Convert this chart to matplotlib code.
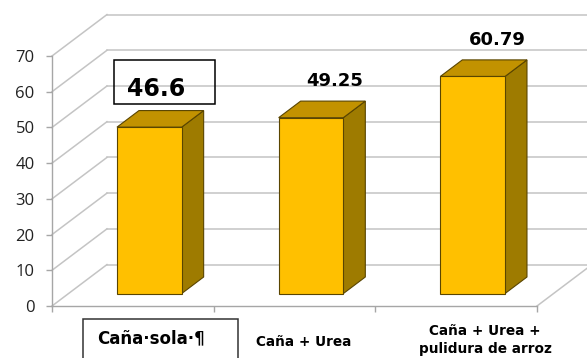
import matplotlib
matplotlib.use("Agg")
import matplotlib.pyplot as plt
from matplotlib.patches import Polygon, Rectangle
from matplotlib.transforms import ScaledTranslation

# Data
categories = ["Caña·sola·¶", "Caña + Urea", "Caña + Urea +\npulidura de arroz"]
values = [46.6, 49.25, 60.79]
value_labels = ["46.6", "49.25", "60.79"]
y_ticks = [0, 10, 20, 30, 40, 50, 60, 70]

# Pseudo-3D geometry (data units): depth shift of the back wall
DX, DY = 0.34, 11.6
BAR_W = 0.40
Z0, Z1 = 0.30, 0.70

FRONT = "#FFC000"
TOP = "#C29200"
SIDE = "#9E7B00"
EDGE = "#5A4500"
GRID = "#C4C4C4"
AXIS = "#A6A6A6"


def proj(x, v, z):
    return (x + z * DX, v + z * DY)


fig = plt.figure(figsize=(5.87, 3.58), dpi=100)
fig.patch.set_facecolor("white")
ax = fig.add_axes([52 / 587, 52 / 358, 485 / 587, 250 / 358])
ax.set_xlim(0, len(categories))
ax.set_ylim(0, y_ticks[-1])
ax.patch.set_visible(False)

for s in ("top", "right"):
    ax.spines[s].set_visible(False)
for s in ("left", "bottom"):
    ax.spines[s].set_color(AXIS)
    ax.spines[s].set_linewidth(1.0)

ax.set_yticks(y_ticks)
ax.set_yticklabels([str(t) for t in y_ticks], fontsize=12, family="Open Sans", color="#222222")
ax.tick_params(axis="y", length=4.5, width=1.0, color=AXIS, pad=8)
ax.set_xticks(range(len(categories) + 1))
ax.set_xticklabels([])
ax.tick_params(axis="x", length=4, width=1.0, color=AXIS)

n = len(categories)
# back wall gridlines and side wall diagonals
for t in y_ticks:
    p0 = proj(0, t, 1)
    p1 = proj(n, t, 1)
    ax.plot([p0[0], p1[0]], [p0[1], p1[1]], color=GRID, lw=1.1, clip_on=False, zorder=1)
    q0 = proj(0, t, 0)
    ax.plot([q0[0], p0[0]], [q0[1], p0[1]], color=GRID, lw=1.1, clip_on=False, zorder=1)
# floor right edge
r0, r1 = proj(n, 0, 0), proj(n, 0, 1)
ax.plot([r0[0], r1[0]], [r0[1], r1[1]], color=GRID, lw=1.1, clip_on=False, zorder=1)

# bars
for i, v in enumerate(values):
    x0 = i + 0.5 - BAR_W / 2
    x1 = i + 0.5 + BAR_W / 2
    side = [proj(x1, 0, Z0), proj(x1, 0, Z1), proj(x1, v, Z1), proj(x1, v, Z0)]
    top = [proj(x0, v, Z0), proj(x1, v, Z0), proj(x1, v, Z1), proj(x0, v, Z1)]
    front = [proj(x0, 0, Z0), proj(x1, 0, Z0), proj(x1, v, Z0), proj(x0, v, Z0)]
    for pts, col in ((side, SIDE), (top, TOP), (front, FRONT)):
        ax.add_patch(Polygon(pts, closed=True, facecolor=col, edgecolor=EDGE,
                             lw=0.8, joinstyle="miter", clip_on=False, zorder=3))

# value labels
px2pt = 0.72
label_dx = [-4, 13, 14]
for i, (v, lab) in enumerate(zip(values, value_labels)):
    anchor = proj(i + 0.5, v, 0.5)
    size = 17 if i == 0 else 13
    ax.annotate(lab, xy=anchor, xytext=(label_dx[i] * px2pt, 23 * px2pt),
                textcoords="offset points", ha="center", va="baseline",
                fontsize=size, fontweight="bold", family="DejaVu Sans",
                color="black", annotation_clip=False, zorder=5)

# framed value box on the first bar
a0 = proj(0.5, values[0], 0.5)
box_tr = fig.dpi_scale_trans + ScaledTranslation(a0[0], a0[1], ax.transData)
ax.add_patch(Rectangle((-0.463, 0.149), 1.01, 0.44, transform=box_tr,
                       facecolor="none", edgecolor="black", lw=1.1, clip_on=False, zorder=5))

# category labels (baseline of the last line)
cat_off = [(18, -37), (9, -40), (29, -47)]
cat_size = [12, 9.8, 9.8]
for i, lab in enumerate(categories):
    ax.annotate(lab, xy=(i + 0.5, 0), xytext=(cat_off[i][0] * px2pt, cat_off[i][1] * px2pt),
                textcoords="offset points", ha="center", va="baseline",
                multialignment="center", linespacing=1.35,
                fontsize=cat_size[i], fontweight="bold", family="DejaVu Sans",
                color="black", annotation_clip=False, zorder=5)

# frame around the first category label
c_tr = fig.dpi_scale_trans + ScaledTranslation(0.5, 0, ax.transData)
ax.add_patch(Rectangle((-0.498, -0.60), 1.55, 0.47, transform=c_tr,
                       facecolor="none", edgecolor="#333333", lw=1.1, clip_on=False, zorder=5))

fig.savefig("out.png", dpi=100)
